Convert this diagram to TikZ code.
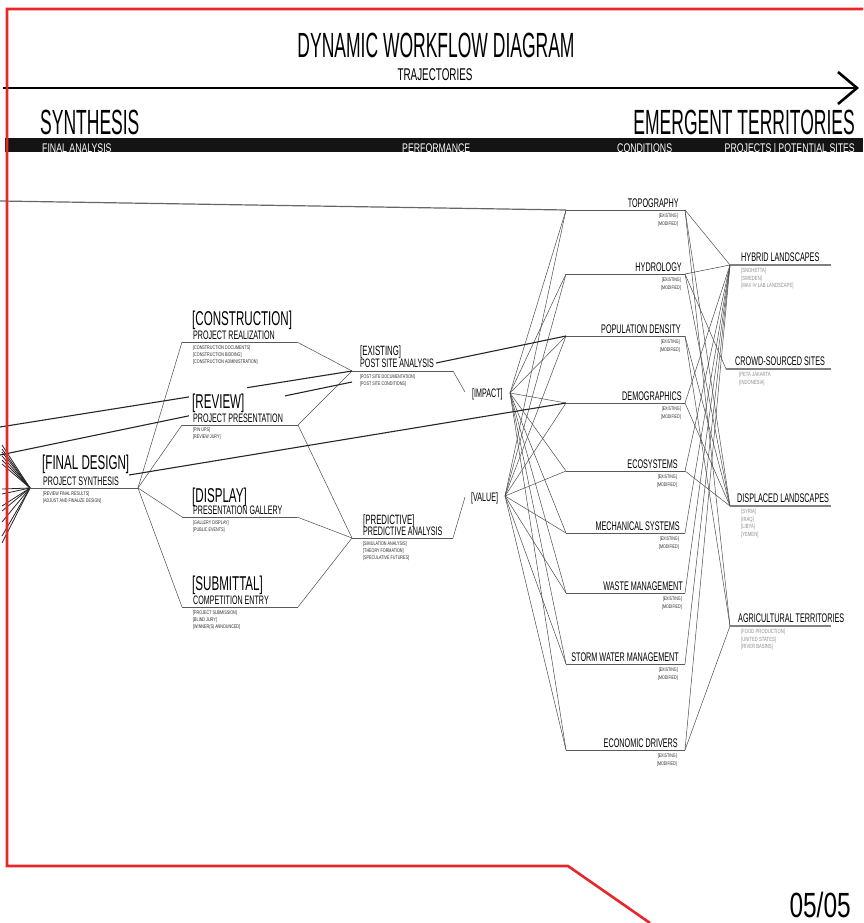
\documentclass[tikz,border=0pt]{standalone}
\usepackage{fontspec}
\newfontfamily\fA{Liberation Sans}[FakeStretch=0.5]
\newfontfamily\fB{Liberation Sans}[FakeStretch=0.58]
\newfontfamily\fC{Liberation Sans}[FakeStretch=0.7]
\definecolor{framered}{HTML}{E8262A}
\begin{document}
\begin{tikzpicture}[x=1pt,y=-1pt,
  hdr/.style={font=\fA\fontsize{35}{35}\selectfont,inner sep=0,text depth=0pt},
  traj/.style={font=\fB\fontsize{17}{17}\selectfont,inner sep=0,text depth=0pt},
  bartxt/.style={font=\fC\fontsize{12.5}{12.5}\selectfont,text=white,inner sep=0,text height=8.5pt,text depth=0pt},
  btitle/.style={font=\fB\fontsize{20}{20}\selectfont,inner sep=0,anchor=base west},
  mtitle/.style={font=\fB\fontsize{13.5}{13.5}\selectfont,inner sep=0,anchor=base west},
  bsub/.style={font=\fB\fontsize{12.3}{12.3}\selectfont,inner sep=0,anchor=base west},
  tinytxt/.style={font=\fC\fontsize{5.3}{7.2}\selectfont,text=black!85,inner sep=0,anchor=north west,align=left},
  ctitle/.style={font=\fB\fontsize{12.5}{12.5}\selectfont,inner sep=0,anchor=base east},
  csub/.style={font=\fC\fontsize{5.2}{7.5}\selectfont,text=black!85,inner sep=0,anchor=north east,align=right},
  ptitle/.style={font=\fB\fontsize{12.5}{12.5}\selectfont,inner sep=0,anchor=base west},
  psub/.style={font=\fC\fontsize{6}{7.5}\selectfont,text=black!45,inner sep=0,anchor=north west,align=left},
  wire/.style={draw=black!70,line width=0.5pt},
  heavy/.style={draw=black!85,line width=1.1pt},
  fanline/.style={draw=black!85,line width=0.8pt},
  ul/.style={draw=black!65,line width=0.7pt},
  pul/.style={draw=black!50,line width=1.8pt},
  redframe/.style={draw=framered,line width=2.6pt},
]
\useasboundingbox (0,0) rectangle (863,923);

% ---------- header ----------
\coordinate (arrA) at (3,88);
\coordinate (arrB) at (855,88);
\coordinate (chevT) at (838,72);
\coordinate (chevM) at (857,88);
\coordinate (chevB) at (838,104);
\draw[line width=2.8pt] (arrA) -- (arrB);
\draw[line width=2.6pt,miter limit=10] (chevT) -- (chevM) -- (chevB);
\node[hdr,anchor=base] (title) at (436,58) {DYNAMIC WORKFLOW DIAGRAM};
\node[traj,anchor=base] (traj) at (435,81) {TRAJECTORIES};
\node[hdr,anchor=base west] (synth) at (40,135) {SYNTHESIS};
\node[hdr,anchor=base east] (emerg) at (855,135) {EMERGENT TERRITORIES};
\fill[black!92] (5,138) rectangle (863,152);
\node[bartxt,anchor=base west] (b1) at (42,152) {FINAL ANALYSIS};
\node[bartxt,anchor=base west] (b2) at (402,152) {PERFORMANCE};
\node[bartxt,anchor=base west] (b3) at (617,152) {CONDITIONS};
\node[bartxt,anchor=base east] (b4) at (855,152) {PROJECTS | POTENTIAL SITES};

% ---------- coordinates ----------
\coordinate (fd-L) at (30,488);   \coordinate (fd-R) at (138,488);
\coordinate (fd-tail) at (129,475);
\coordinate (con-L) at (182,342); \coordinate (con-R) at (297,342);
\coordinate (rev-L) at (182,425); \coordinate (rev-R) at (298,425);
\coordinate (dis-L) at (182,517); \coordinate (dis-R) at (297,517);
\coordinate (sub-L) at (182,607); \coordinate (sub-R) at (298,607);
\coordinate (psa-L) at (352,371); \coordinate (psa-R) at (453,371);
\coordinate (psa-L2) at (352,382);
\coordinate (psa-tail) at (436,363);
\coordinate (pre-L) at (352,538); \coordinate (pre-R) at (453,538);
\coordinate (imp-in) at (465,392); \coordinate (imp-out) at (510,393);
\coordinate (val-in) at (465,497); \coordinate (val-out) at (505,496);
\coordinate (hyb-L) at (730,265);  \coordinate (hyb-R) at (831,265);
\coordinate (cro-L) at (726,369);  \coordinate (cro-R) at (831,369);
\coordinate (dsp-L) at (730,506);  \coordinate (dsp-R) at (831,506);
\coordinate (agr-L) at (730,626);  \coordinate (agr-R) at (831,626);
\coordinate (edgeTop) at (0,201);
\coordinate (edgeA) at (0,427);
\coordinate (edgeB) at (0,455);

% ---------- conditions ----------
\foreach \n/\y/\t/\tx in {topo/210/TOPOGRAPHY/679, hydro/274/HYDROLOGY/682,
  pop/336/POPULATION DENSITY/681, demo/403/DEMOGRAPHICS/682,
  eco/471/ECOSYSTEMS/678, mech/533/MECHANICAL SYSTEMS/680,
  waste/593/WASTE MANAGEMENT/683, storm/664/STORM WATER MANAGEMENT/679,
  econ/750/ECONOMIC DRIVERS/678}{
  \coordinate (\n-L) at (566,\y);
  \coordinate (\n-R) at (685,\y);
  \draw[ul] (\n-L) -- (\n-R);
  \node[ctitle] (\n-T) at (\tx,\y-3) {\t};
  \node[csub] (\n-S) at (\tx-1,\y+4) {[EXISTING]\\{[MODIFIED]}};
}

% ---------- connectors ----------
\foreach \c in {topo,hydro,pop,demo,eco,mech,waste,storm,econ}{
  \draw[wire] (imp-out) -- (\c-L);
  \draw[wire] (val-out) -- (\c-L);
}
\foreach \a/\b in {topo/hyb, topo/dsp, topo/agr, hydro/hyb, hydro/cro, hydro/dsp,
  pop/dsp, pop/agr, demo/hyb, demo/dsp, eco/hyb, eco/dsp, mech/hyb, waste/hyb,
  storm/hyb, econ/hyb, econ/agr}{
  \draw[wire] (\a-R) -- (\b-L);
}
\foreach \y in {445,449,452,456,460,464,489,494,506,511,522,536,543}{
  \coordinate (lf\y) at (2,\y);
  \draw[fanline] (lf\y) -- (fd-L);
}
\draw[ul] (fd-L) -- (fd-R);
\draw[wire] (fd-R) -- (con-L);
\draw[wire] (fd-R) -- (rev-L);
\draw[wire] (fd-R) -- (dis-L);
\draw[wire] (fd-R) -- (sub-L);
\draw[ul] (con-L) -- (con-R);
\draw[ul] (rev-L) -- (rev-R);
\draw[ul] (dis-L) -- (dis-R);
\draw[ul] (sub-L) -- (sub-R);
\draw[wire] (con-R) -- (psa-L);
\draw[wire] (rev-R) -- (psa-L);
\draw[wire] (rev-R) -- (pre-L);
\draw[wire] (dis-R) -- (pre-L);
\draw[wire] (sub-R) -- (pre-L);
\draw[ul] (psa-L) -- (psa-R);
\draw[ul] (pre-L) -- (pre-R);
\draw[wire] (psa-R) -- (imp-in);
\draw[wire] (pre-R) -- (val-in);
\draw[draw=black!60,line width=1.2pt] (edgeTop) -- (topo-L);
\draw[heavy] (edgeA) -- (psa-L);
\draw[heavy] (edgeB) -- (psa-L2);
\draw[heavy] (psa-tail) -- (pop-L);
\draw[heavy] (fd-tail) -- (demo-L);
\draw[pul] (hyb-L) -- (hyb-R);
\draw[pul] (cro-L) -- (cro-R);
\draw[pul] (dsp-L) -- (dsp-R);
\draw[pul] (agr-L) -- (agr-R);

% white ground behind the REVIEW labels (the long lines pass under them)
\fill[white] (189,386) rectangle (247,412);
\fill[white] (189,393) rectangle (285,424);

% ---------- left texts ----------
\node[btitle] (fdT) at (42,469) {[FINAL DESIGN]};
\node[bsub] (fdS) at (43,485) {PROJECT SYNTHESIS};
\node[tinytxt] (fdX) at (43,491) {[REVIEW FINAL RESULTS]\\{[ADJUST AND FINALIZE DESIGN]}};

\node[btitle] (conT) at (192,325) {[CONSTRUCTION]};
\node[bsub] (conS) at (193,339.5) {PROJECT REALIZATION};
\node[tinytxt] (conX) at (193,345) {[CONSTRUCTION DOCUMENTS]\\{[CONSTRUCTION BIDDING]}\\{[CONSTRUCTION ADMINISTRATION]}};

\node[btitle] (revT) at (192,408) {[REVIEW]};
\node[bsub] (revS) at (193,422) {PROJECT PRESENTATION};
\node[tinytxt] (revX) at (193,427) {[PIN UPS]\\{[REVIEW JURY]}};

\node[btitle] (disT) at (192,502) {[DISPLAY]};
\node[bsub] (disS) at (193,514) {PRESENTATION GALLERY};
\node[tinytxt] (disX) at (193,520) {[GALLERY DISPLAY]\\{[PUBLIC EVENTS]}};

\node[btitle] (subT) at (192,590) {[SUBMITTAL]};
\node[bsub] (subS) at (193,604) {COMPETITION ENTRY};
\node[tinytxt] (subX) at (193,610) {[PROJECT SUBMISSION]\\{[BLIND JURY]}\\{[WINNER(S) ANNOUNCED]}};

\node[mtitle] (psaT) at (360,355) {[EXISTING]};
\node[bsub] (psaS) at (360,367.5) {POST SITE ANALYSIS};
\node[tinytxt] (psaX) at (360,374) {[POST SITE DOCUMENTATION]\\{[POST SITE CONDITIONS]}};

\node[mtitle] (preT) at (363,524) {[PREDICTIVE]};
\node[bsub] (preS) at (363,535) {PREDICTIVE ANALYSIS};
\node[tinytxt] (preX) at (363,541) {[SIMULATION ANALYSIS]\\{[THEORY FORMATION]}\\{[SPECULATIVE FUTURES]}};

\node[bsub] (impT) at (472,397) {[IMPACT]};
\node[bsub] (valT) at (471,501) {[VALUE]};

% ---------- project texts ----------
\node[ptitle] (hybT) at (741,261) {HYBRID LANDSCAPES};
\node[psub] (hybX) at (741,268) {[SNOHETTA]\\{[SWEDEN]}\\{[MAX IV LAB LANDSCAPE]}};
\node[ptitle] (croT) at (735,365) {CROWD-SOURCED SITES};
\node[psub] (croX) at (739,372) {[PETA JAKARTA\\{[INDONESIA]}};
\node[ptitle] (dspT) at (737,502) {DISPLACED LANDSCAPES};
\node[psub] (dspX) at (741,509) {[SYRIA]\\{[IRAQ]}\\{[LIBYA]}\\{[YEMEN]}};
\node[ptitle] (agrT) at (738,622) {AGRICULTURAL TERRITORIES};
\node[psub] (agrX) at (741,629) {[FOOD PRODUCTION]\\{[UNITED STATES]}\\{[RIVER BASINS]}};

% ---------- page number & frame ----------
\node[font=\fC\fontsize{35}{35}\selectfont,inner sep=0,anchor=base east] (page) at (851,917) {05/05};
\coordinate (fr1) at (863,9);
\coordinate (fr2) at (7,9);
\coordinate (fr3) at (7,866);
\coordinate (fr4) at (568,866);
\coordinate (fr5) at (650,923);
\draw[redframe] (fr1) -- (fr2) -- (fr3) -- (fr4) -- (fr5);
\end{tikzpicture}
\end{document}
